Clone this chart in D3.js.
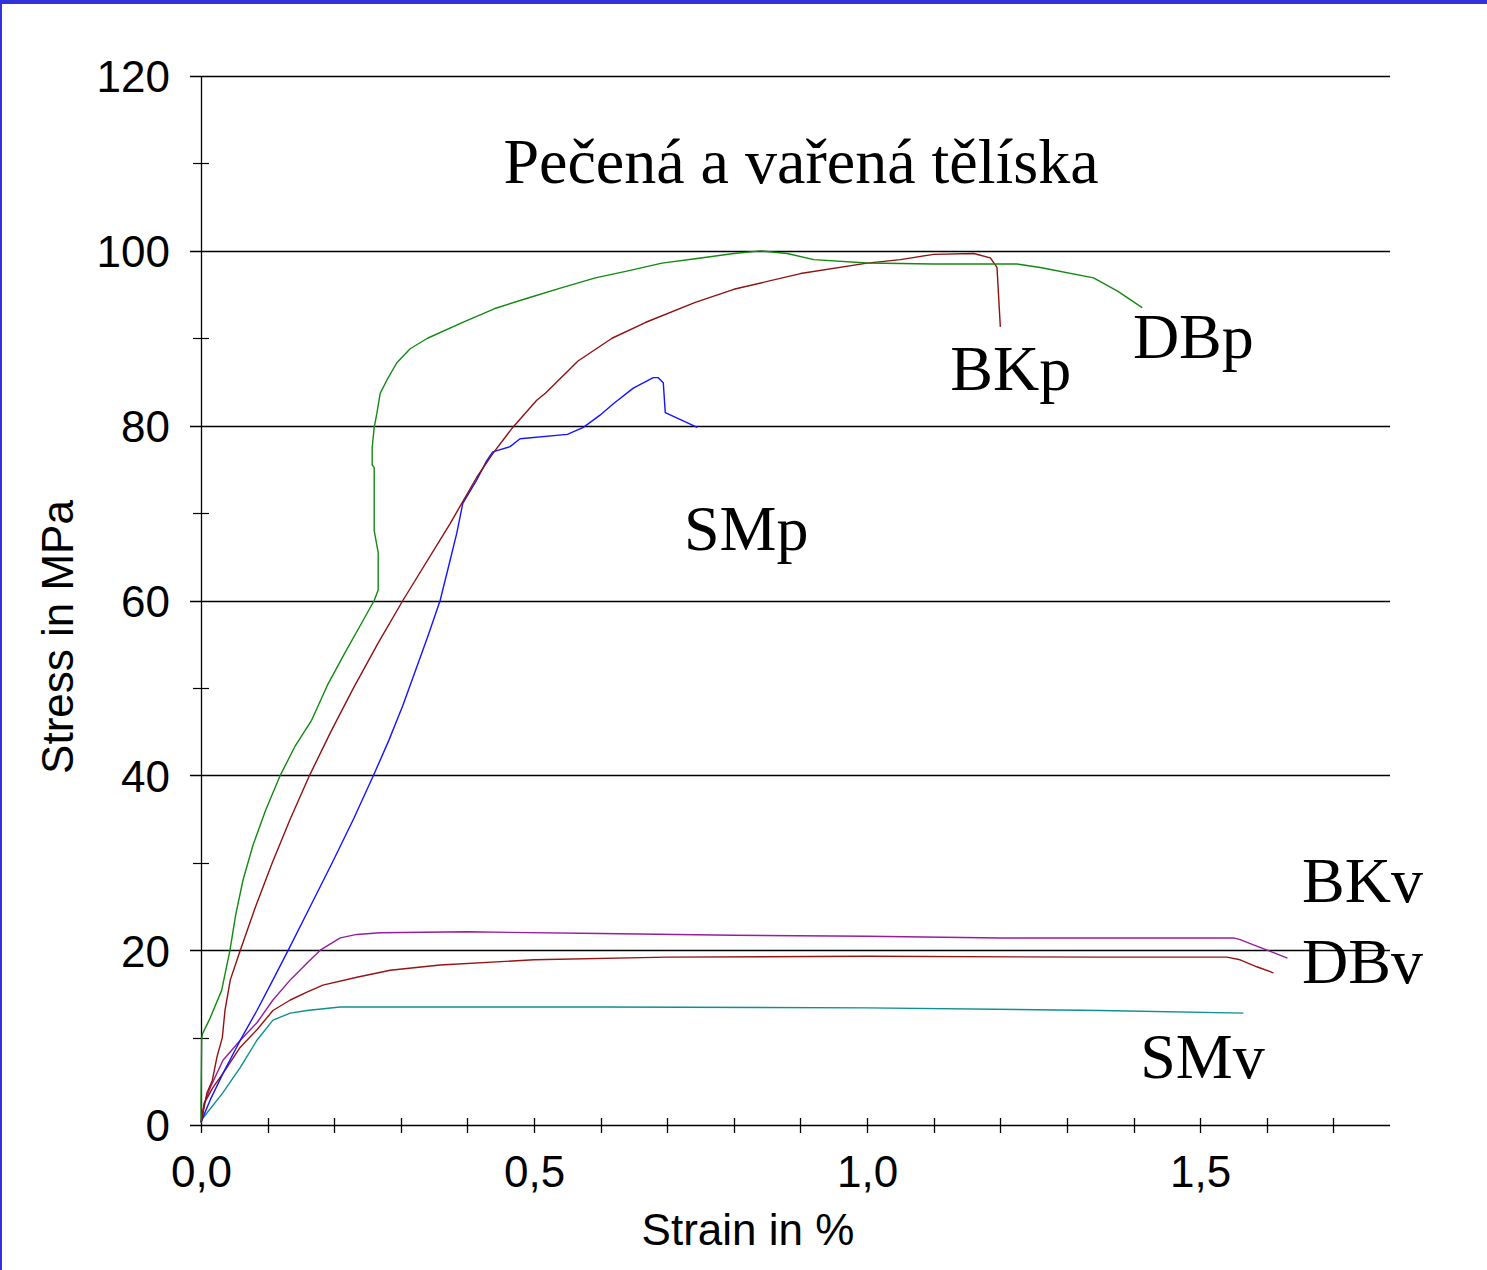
<!DOCTYPE html>
<html>
<head>
<meta charset="utf-8">
<script src="https://cdn.jsdelivr.net/npm/d3@7"></script>
<style>
  html, body { margin: 0; padding: 0; background: #fff; }
  svg { display: block; }
</style>
</head>
<body>
<svg id="chart" width="1487" height="1270"></svg>
<script>
// Stress–strain curves of baked (p) and boiled (v) specimens: [strain %, stress MPa]
const DBp = [[0,0.5],[0,2.5],[0.001,9.8],[0.002,10.4],[0.0135,12.2],[0.031,15.4],[0.0435,20],[0.052,24],[0.063,28],[0.078,32],[0.097,36],[0.119,40],[0.141,43.3],[0.166,46.3],[0.191,50.5],[0.216,54],[0.241,57.4],[0.26,60],[0.266,61.2],[0.266,65.5],[0.26,68],[0.26,75.2],[0.257,75.5],[0.257,77.5],[0.26,79.8],[0.264,81.4],[0.269,83.7],[0.279,85.2],[0.294,87.2],[0.314,88.8],[0.34,90],[0.392,91.8],[0.441,93.4],[0.491,94.6],[0.542,95.8],[0.592,96.9],[0.641,97.7],[0.692,98.6],[0.742,99.1],[0.8,99.7],[0.84,100],[0.88,99.7],[0.92,99],[1.0,98.6],[1.1,98.5],[1.225,98.5],[1.26,98.1],[1.34,96.9],[1.376,95.4],[1.413,93.5]];
const BKp = [[0,0.3],[0.003,1.4],[0.009,3.7],[0.017,5.1],[0.024,7.8],[0.032,10],[0.036,13.1],[0.044,16.6],[0.059,20],[0.082,25],[0.107,30],[0.134,35],[0.163,40],[0.195,45],[0.229,50],[0.265,55],[0.303,60],[0.374,68.8],[0.414,74.1],[0.438,76.8],[0.468,79.8],[0.504,82.9],[0.517,83.7],[0.566,87.4],[0.617,90],[0.667,91.8],[0.742,94.1],[0.8,95.6],[0.9,97.4],[1.0,98.6],[1.05,99.0],[1.1,99.6],[1.16,99.7],[1.185,99.2],[1.195,98.1],[1.2,91.3]];
const SMp = [[0,0.3],[0.003,0.9],[0.014,2.9],[0.033,5.9],[0.059,9.7],[0.084,13.1],[0.108,16.6],[0.131,20],[0.164,25],[0.197,30],[0.229,35],[0.259,40],[0.282,44],[0.303,48],[0.322,52],[0.341,56],[0.359,60],[0.374,64.6],[0.384,67.7],[0.393,71.1],[0.414,73.8],[0.429,76],[0.438,77],[0.464,77.6],[0.479,78.5],[0.55,79],[0.574,79.8],[0.599,81.2],[0.619,82.5],[0.649,84.3],[0.679,85.5],[0.686,85.5],[0.694,84.9],[0.697,81.5],[0.745,79.8]];
const BKv = [[0,0.3],[0.005,2.5],[0.014,4.3],[0.033,7.4],[0.059,9.7],[0.084,11.7],[0.108,14.3],[0.134,16.6],[0.159,18.5],[0.179,20],[0.209,21.4],[0.234,21.8],[0.269,22],[0.4,22.1],[0.6,21.9],[0.8,21.7],[1.0,21.6],[1.2,21.4],[1.35,21.4],[1.55,21.4],[1.56,21.2],[1.58,20.6],[1.631,19.1]];
const DBv = [[0,0.3],[0.005,2.5],[0.018,4.3],[0.033,5.9],[0.059,8.9],[0.084,10.9],[0.108,13.1],[0.134,14.3],[0.159,15.2],[0.183,16],[0.234,16.9],[0.284,17.7],[0.359,18.3],[0.5,18.9],[0.7,19.2],[1.0,19.3],[1.35,19.2],[1.54,19.2],[1.56,18.9],[1.585,18.1],[1.61,17.4]];
const SMv = [[0,0.3],[0.003,0.8],[0.033,3.7],[0.059,6.6],[0.084,9.7],[0.108,12],[0.134,12.8],[0.159,13.1],[0.209,13.5],[0.284,13.5],[0.6,13.5],[1.0,13.4],[1.35,13.1],[1.565,12.8]];

// Series drawing order and colours
const seriesNames = ["BKv", "DBv", "SMv", "SMp", "BKp", "DBp"];
const seriesData = { DBp, BKp, SMp, BKv, DBv, SMv };
const seriesColors = { DBp: "#128a12", BKp: "#8e1212", SMp: "#1414ff", BKv: "#961e9e", DBv: "#961414", SMv: "#0f8f8f" };

// Curve labels: [text, strain, stress] at the label baseline start
const curveLabels = [["BKp", 1.125, 84.1], ["DBp", 1.399, 87.7], ["SMp", 0.725, 65.8], ["BKv", 1.653, 25.5], ["DBv", 1.653, 16.2], ["SMv", 1.41, 5.4]];

// Axis ticks
const xMajorTicks = [0, 0.5, 1.0, 1.5];
const xMinorTicks = [0.1, 0.2, 0.3, 0.4, 0.6, 0.7, 0.8, 0.9, 1.1, 1.2, 1.3, 1.4, 1.6, 1.7];
const yMajorTicks = [0, 20, 40, 60, 80, 100, 120];
const yMinorTicks = [10, 30, 50, 70, 90, 110];

const titleText = "Pečená a vařená tělíska";
const xTitle = "Strain in %";
const yTitle = "Stress in MPa";

const svg = d3.select("#chart");
const W = 1487, H = 1270;
const sans = "'Liberation Sans', Arial, sans-serif";
const serif = "'Liberation Serif', 'Times New Roman', serif";

// Frame edges
svg.append("rect").attr("x", 0).attr("y", 0).attr("width", W).attr("height", 4).attr("fill", "#3232dc");
svg.append("rect").attr("x", 0).attr("y", 0).attr("width", 2).attr("height", H).attr("fill", "#3232dc");

const x = d3.scaleLinear().domain([0, 1.785]).range([201, 1390]);
const y = d3.scaleLinear().domain([0, 120]).range([1125, 76]);

const commaLocale = d3.formatLocale({ decimal: ",", thousands: " ", grouping: [3], currency: ["", ""] });
const fmtX = commaLocale.format(".1f");

// Horizontal grid lines (incl. the axis line at 0)
svg.append("g").selectAll("line").data(yMajorTicks).join("line")
  .attr("x1", 190).attr("x2", 1390)
  .attr("y1", d => Math.round(y(d)) + 0.5).attr("y2", d => Math.round(y(d)) + 0.5)
  .attr("stroke", "#000").attr("stroke-width", 1.3);

// Vertical axis line
svg.append("line").attr("x1", 201.5).attr("x2", 201.5).attr("y1", y(120)).attr("y2", y(0))
  .attr("stroke", "#000").attr("stroke-width", 1.3);

// Minor y ticks crossing the axis
svg.append("g").selectAll("line").data(yMinorTicks).join("line")
  .attr("x1", 193).attr("x2", 209)
  .attr("y1", d => Math.round(y(d)) + 0.5).attr("y2", d => Math.round(y(d)) + 0.5)
  .attr("stroke", "#000").attr("stroke-width", 1.2);

// x ticks crossing the axis
svg.append("g").selectAll("line").data(xMinorTicks.concat(xMajorTicks.slice(1))).join("line")
  .attr("x1", d => Math.round(x(d)) + 0.5).attr("x2", d => Math.round(x(d)) + 0.5)
  .attr("y1", 1118).attr("y2", 1133)
  .attr("stroke", "#000").attr("stroke-width", 1.3);
svg.append("line").attr("x1", 201.5).attr("x2", 201.5).attr("y1", 1125).attr("y2", 1133)
  .attr("stroke", "#000").attr("stroke-width", 1.3);

// Tick labels through d3 axes
const yAxis = d3.axisLeft(y).tickValues(yMajorTicks).tickSize(0).tickPadding(31);
const gy = svg.append("g").attr("transform", "translate(201,0)").call(yAxis);
gy.select(".domain").remove();
gy.selectAll("text").attr("font-family", sans).attr("font-size", 44).attr("fill", "#000").attr("dy", "0.36em");

const xAxis = d3.axisBottom(x).tickValues(xMajorTicks).tickFormat(fmtX).tickSize(0).tickPadding(31);
const gx = svg.append("g").attr("transform", "translate(0,1125)").call(xAxis);
gx.select(".domain").remove();
gx.selectAll("text").attr("font-family", sans).attr("font-size", 44).attr("fill", "#000").attr("dy", "0.71em");

// Axis titles
svg.append("text").attr("x", 748).attr("y", 1245).attr("text-anchor", "middle")
  .attr("font-family", sans).attr("font-size", 44).text(xTitle);
svg.append("text").attr("transform", "translate(73,637) rotate(-90)").attr("text-anchor", "middle")
  .attr("font-family", sans).attr("font-size", 44).text(yTitle);

// Curves
const line = d3.line().x(d => x(d[0])).y(d => y(d[1]));
svg.append("g").selectAll("path").data(seriesNames).join("path")
  .attr("d", n => line(seriesData[n]))
  .attr("fill", "none")
  .attr("stroke", n => seriesColors[n])
  .attr("stroke-width", 1.4)
  .attr("stroke-linejoin", "round");

// Title
svg.append("text").attr("x", 801).attr("y", 183).attr("text-anchor", "middle")
  .attr("font-family", serif).attr("font-size", 64).text(titleText);

// Curve labels
svg.append("g").selectAll("text").data(curveLabels).join("text")
  .attr("x", d => x(d[1])).attr("y", d => y(d[2]))
  .attr("font-family", serif).attr("font-size", 64)
  .text(d => d[0]);
</script>
</body>
</html>
